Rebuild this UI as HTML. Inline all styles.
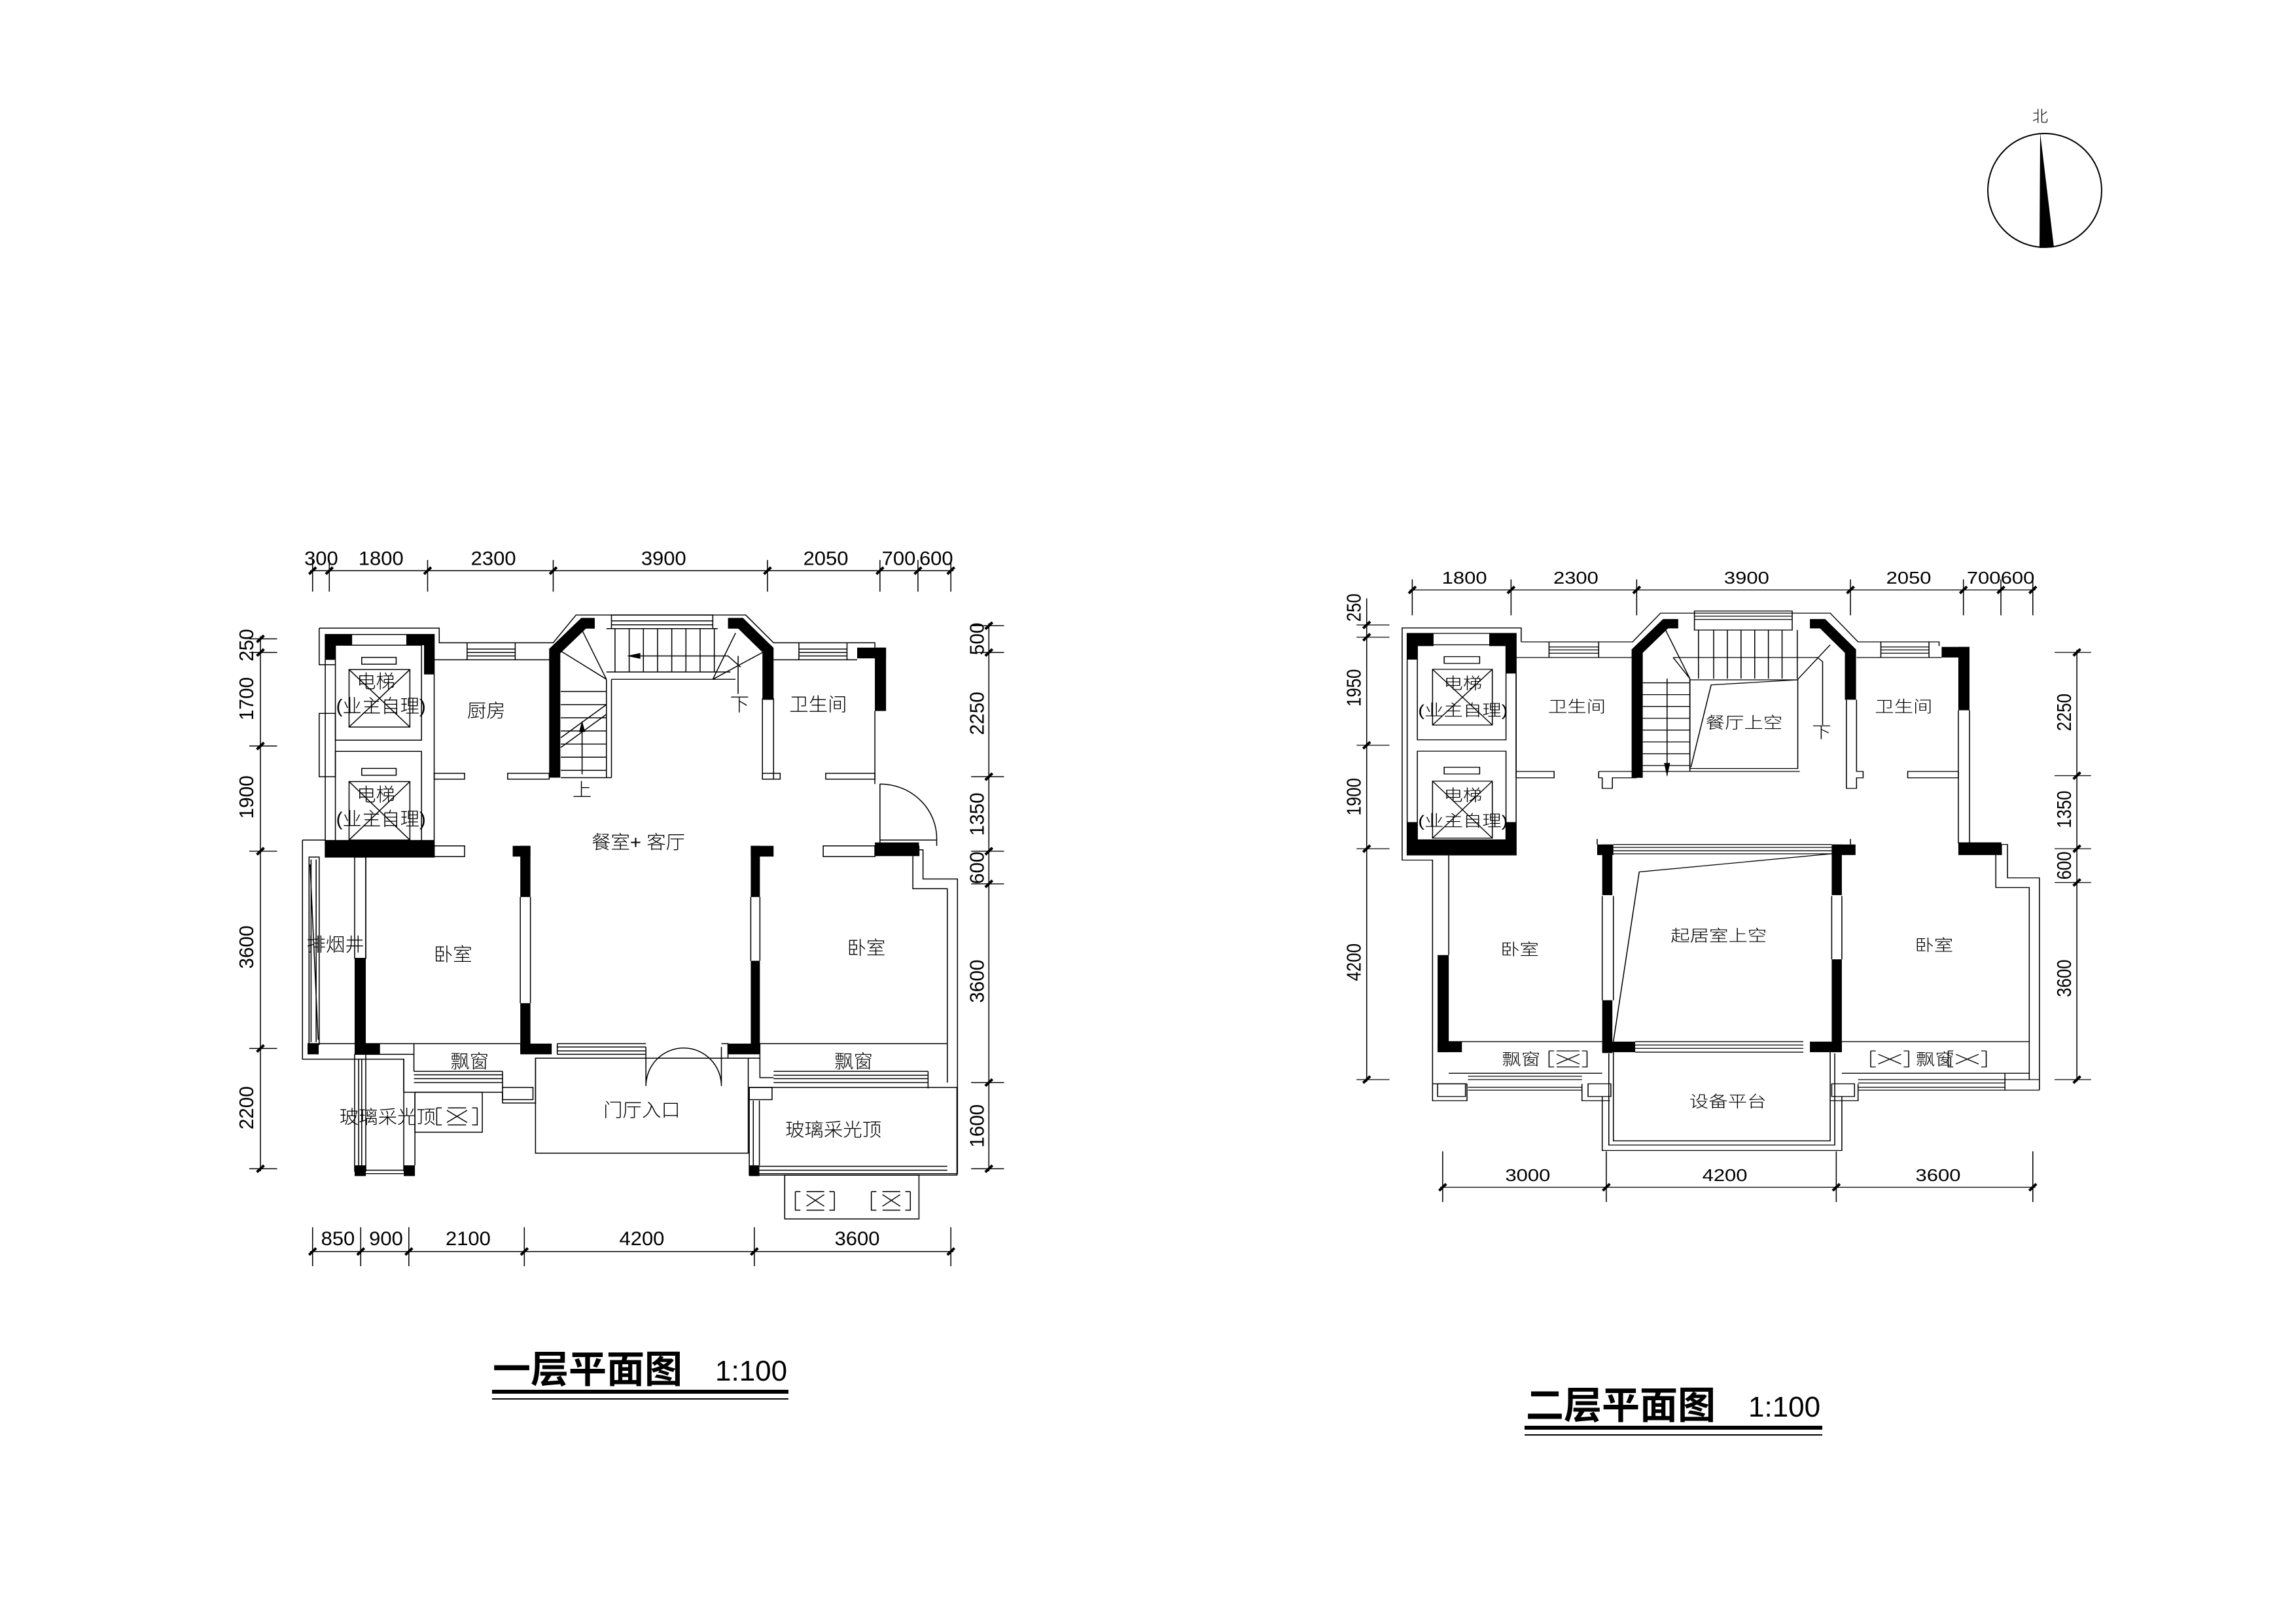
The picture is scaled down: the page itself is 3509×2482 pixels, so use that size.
<!DOCTYPE html>
<html><head><meta charset="utf-8"><style>
html,body{margin:0;padding:0;background:#fff;}
svg{display:block}
.t{stroke:#000;stroke-width:2;fill:none;vector-effect:non-scaling-stroke}
.k{fill:#000}
.x{font-family:"Liberation Sans","Noto Sans CJK SC",sans-serif;fill:#000;text-anchor:middle}
.c{font-family:"Liberation Sans","Noto Sans CJK SC",sans-serif;fill:#000;text-anchor:middle;font-weight:300}
</style></head><body>
<svg width="3509" height="2482" viewBox="0 0 3509 2482" xmlns="http://www.w3.org/2000/svg">
<rect width="3509" height="2482" fill="#fff"/>

<circle cx="3125" cy="291" r="87" class="t"/>
<polygon points="3118,203 3117,379 3139,378" class="k"/>
<text x="3118" y="186" class="c" font-size="24">北</text>

<text x="753" y="2113" font-family="'Noto Sans CJK SC','WenQuanYi Zen Hei',sans-serif" font-size="58" font-weight="bold">一层平面图</text>
<text x="1093" y="2110" font-family="'Liberation Sans',sans-serif" font-size="44">1:100</text>
<rect x="752" y="2124" width="453" height="6" class="k"/>
<rect x="752" y="2137" width="453" height="2" class="k"/>
<text x="2332" y="2168" font-family="'Noto Sans CJK SC','WenQuanYi Zen Hei',sans-serif" font-size="58" font-weight="bold">二层平面图</text>
<text x="2672" y="2165" font-family="'Liberation Sans',sans-serif" font-size="44">1:100</text>
<rect x="2330" y="2179" width="455" height="6" class="k"/>
<rect x="2330" y="2192" width="455" height="2" class="k"/>

<!-- PLAN 1 -->
<svg x="350" y="800" width="1200" height="1150" viewBox="0 0 1550 1545" preserveAspectRatio="none" overflow="visible">
<g class="t">
<line x1="160" y1="97" x2="1430" y2="97"/>
<path d="M165,75V140M198,75V140M392,75V140M640,75V140M1063,75V140M1285,75V140M1360,75V140M1425,75V140"/>
<line x1="62" y1="232" x2="62" y2="1330"/>
<path d="M40,237H95M40,265H95M40,457H95M40,673H95M40,1078H95M40,1325H95"/>
<line x1="1500" y1="205" x2="1500" y2="1330"/>
<path d="M1465,210H1530M1465,265H1530M1465,520H1530M1465,673H1530M1465,740H1530M1465,1148H1530M1465,1325H1530"/>
<line x1="160" y1="1495" x2="1430" y2="1495"/>
<path d="M165,1445V1525M260,1445V1525M355,1445V1525M583,1445V1525M1037,1445V1525M1425,1445V1525"/>
</g>
<g stroke="#000" stroke-width="4" fill="none">
<path d="M158,104L172,90M191,104L205,90M385,104L399,90M633,104L647,90M1056,104L1070,90M1278,104L1292,90M1353,104L1367,90M1418,104L1432,90" vector-effect="non-scaling-stroke"/>
<path d="M55,244L69,230M55,272L69,258M55,464L69,450M55,680L69,666M55,1085L69,1071M55,1332L69,1318" vector-effect="non-scaling-stroke"/>
<path d="M1493,217L1507,203M1493,272L1507,258M1493,527L1507,513M1493,680L1507,666M1493,747L1507,733M1493,1155L1507,1141M1493,1332L1507,1318" vector-effect="non-scaling-stroke"/>
<path d="M158,1502L172,1488M253,1502L267,1488M348,1502L362,1488M576,1502L590,1488M1030,1502L1044,1488M1418,1502L1432,1488" vector-effect="non-scaling-stroke"/>
</g>
<g class="x" font-size="40">
<text x="182" y="85">300</text><text x="300" y="85">1800</text><text x="522" y="85">2300</text><text x="858" y="85">3900</text><text x="1178" y="85">2050</text><text x="1322" y="85">700</text><text x="1396" y="85">600</text>
<text x="215" y="1482">850</text><text x="310" y="1482">900</text><text x="472" y="1482">2100</text><text x="815" y="1482">4200</text><text x="1240" y="1482">3600</text>
<text transform="translate(48,250) rotate(-90)">250</text><text transform="translate(48,360) rotate(-90)">1700</text><text transform="translate(48,562) rotate(-90)">1900</text><text transform="translate(48,870) rotate(-90)">3600</text><text transform="translate(48,1200) rotate(-90)">2200</text>
<text transform="translate(1490,237) rotate(-90)">500</text><text transform="translate(1490,390) rotate(-90)">2250</text><text transform="translate(1490,597) rotate(-90)">1350</text><text transform="translate(1490,707) rotate(-90)">600</text><text transform="translate(1490,940) rotate(-90)">3600</text><text transform="translate(1490,1237) rotate(-90)">1600</text>
</g>
<g class="t">
<path d="M178,215H415V245H640L685,188H1020L1075,245H1275V255"/>
<path d="M178,215V290H210"/>
<rect x="178" y="390" width="32" height="130"/>
<rect x="190" y="228" width="215" height="457"/>
<rect x="210" y="250" width="170" height="195"/><rect x="210" y="468" width="170" height="190"/>
<rect x="237" y="300" width="120" height="118"/><path d="M237,300L357,418M357,300L237,418"/>
<rect x="237" y="530" width="120" height="120"/><path d="M237,530L357,650M357,530L237,650"/>
<rect x="262" y="275" width="68" height="14"/><rect x="262" y="503" width="68" height="14"/>
<path d="M405,280H632M470,245V280M565,245V280M470,258H565M470,265H565M470,272H565"/>
<rect x="405" y="513" width="60" height="12"/><rect x="550" y="513" width="82" height="12"/>
<rect x="755" y="188" width="200" height="28"/><path d="M755,200H955M755,208H955M745,216H965"/>
<path d="M1075,280H1240M1125,245V280M1220,245V280M1125,258H1220M1125,265H1220M1125,272H1220"/>
<rect x="1053" y="360" width="22" height="165"/><rect x="1053" y="513" width="35" height="12"/><rect x="1178" y="513" width="97" height="12"/>
<path d="M1275,385V535"/>
<path d="M1285,535A112,112 0 0 1 1397,650M1285,535V655M1285,650H1397V662"/>
<rect x="405" y="662" width="60" height="22"/><rect x="1173" y="662" width="102" height="22"/>
<path d="M1362,662V683M1350,683V750H1418V1148M1362,670H1370V730H1438V1335H1418"/>
<path d="M145,650H190M145,650V1100H345V1168H540V1190H605V1098"/>
<rect x="158" y="685" width="20" height="385"/><path d="M162,690V1065M172,690V1065M160,700L176,1060"/>
<rect x="248" y="685" width="22" height="208"/>
<path d="M155,1068H575M270,1090H365V1100M365,1068V1125"/>
<path d="M365,1125H540M365,1132H540M365,1140H540M365,1148H540M540,1125V1160"/>
<rect x="540" y="1158" width="60" height="25"/>
<path d="M575,767V985M595,767V985M1030,767V898M1048,767V898"/>
<rect x="248" y="1090" width="22" height="240"/><path d="M256,1100V1318M262,1100V1318"/>
<path d="M345,1100V1330M367,1168V1318M270,1328H345M270,1335H345"/>
<rect x="367" y="1168" width="133" height="82"/>
<path d="M410,1200H420M410,1200V1235H420M490,1200H480M490,1200V1235H480M430,1205L470,1230M470,1205L430,1230M432,1200H468M432,1235H468"/>
<rect x="605" y="1098" width="420" height="195"/>
<path d="M648,1068H823M648,1075H823M648,1083H823M648,1090H823M648,1068V1090"/>
<path d="M823,1075V1155M972,1075V1155M823,1155A75,78 0 0 1 898,1077M972,1155A75,78 0 0 0 898,1077M972,1068H985V1098"/>
<path d="M985,1068V1090M1025,1098H1048"/>
<path d="M1048,1068H1418M1048,1068V1138H1075M1075,1125H1380M1075,1133H1380M1075,1140H1380M1075,1148H1380M1380,1125V1160"/>
<rect x="1027" y="1158" width="45" height="25"/>
<rect x="1027" y="1158" width="410" height="180"/><path d="M1035,1185V1318M1047,1185V1318M1047,1320H1418M1047,1328H1418M1047,1335H1418"/>
<rect x="1097" y="1338" width="265" height="90"/>
<path d="M1118,1372H1128M1118,1372V1410H1128M1195,1372H1185M1195,1372V1410H1185M1140,1378L1175,1402M1175,1378L1140,1402M1140,1372H1175M1140,1410H1175"/>
<path d="M1268,1372H1278M1268,1372V1410H1278M1345,1372H1335M1345,1372V1410H1335M1290,1378L1325,1402M1325,1378L1290,1402M1290,1372H1325M1290,1410H1325"/>
<!-- stairs -->
<path d="M655,345H745M655,372H745M655,399H745M655,426H745M655,453H745M655,480H745M655,507H745M745,320V522M755,320V522M655,522H755"/>
<path d="M755,320H1000M762,216V305M790,216V305M818,216V305M846,216V305M874,216V305M902,216V305M930,216V305M958,216V305M745,305H990"/>
<path d="M745,320L695,215M745,320L655,262M955,320L1000,225M955,320L1053,265"/>
<path d="M790,272H985L1010,295M1005,272V350"/>
<path d="M697,415V515M655,460L745,392M655,440L745,372"/>
<path d="M160,1068V1090M270,685V893"/>
</g>
<polygon points="785,272 812,266 812,278" class="k"/>
<polygon points="697,405 691,428 703,428" class="k"/>
<path d="M643,522L643,262L700,205L722,205M985,205L1010,205L1064,260L1064,362" stroke="#000" stroke-width="22" fill="none" stroke-linejoin="miter"/>
<g class="k">
<rect x="190" y="228" width="53" height="22"/><rect x="190" y="228" width="20" height="52"/>
<rect x="350" y="228" width="55" height="22"/><rect x="385" y="228" width="20" height="82"/>
<rect x="190" y="650" width="215" height="35"/>
<rect x="1240" y="255" width="57" height="22"/><rect x="1275" y="255" width="22" height="130"/>
<rect x="1275" y="655" width="87" height="28"/>
<rect x="560" y="662" width="35" height="22"/><rect x="575" y="662" width="20" height="105"/>
<rect x="575" y="985" width="20" height="100"/><rect x="575" y="1068" width="62" height="22"/>
<rect x="248" y="893" width="22" height="197"/><rect x="248" y="1068" width="50" height="22"/>
<rect x="155" y="1068" width="22" height="22"/>
<rect x="1030" y="662" width="45" height="22"/><rect x="1030" y="662" width="18" height="105"/>
<rect x="1030" y="898" width="18" height="190"/><rect x="985" y="1068" width="63" height="22"/>
<rect x="1027" y="1318" width="20" height="22"/>
<rect x="248" y="1318" width="22" height="22"/><rect x="345" y="1318" width="22" height="22"/>
</g>
<g class="c" font-size="38">
<text x="290" y="338">电梯</text><text x="300" y="388">(业主自理)</text>
<text x="290" y="570">电梯</text><text x="300" y="620">(业主自理)</text>
<text x="508" y="398">厨房</text><text x="1163" y="385">卫生间</text>
<text x="808" y="668">餐室+ 客厅</text>
<text x="442" y="898">卧室</text><text x="1258" y="885">卧室</text>
<text x="210" y="878">排烟井</text>
<text x="475" y="1118">飘窗</text><text x="1233" y="1118">飘窗</text>
<text x="815" y="1218">门厅入口</text>
<text x="313" y="1232">玻璃采光顶</text><text x="1193" y="1258">玻璃采光顶</text>
<text x="697" y="560">上</text><text x="1008" y="385">下</text>
</g>
</svg>

<!-- PLAN 2 -->
<svg x="2050" y="850" width="1200" height="1000" viewBox="0 0 1550 1550" preserveAspectRatio="none" overflow="visible">
<g class="t">
<line x1="135" y1="80" x2="1370" y2="80"/>
<path d="M140,55V140M335,55V140M583,55V140M1005,55V140M1228,55V140M1302,55V140M1365,55V140"/>
<line x1="50" y1="100" x2="50" y2="1245"/>
<path d="M30,163H95M30,192H95M30,448H95M30,693H95M30,1240H95"/>
<line x1="1452" y1="222" x2="1452" y2="1245"/>
<path d="M1408,228H1480M1408,520H1480M1408,693H1480M1408,773H1480M1408,1240H1480"/>
<line x1="195" y1="1495" x2="1370" y2="1495"/>
<path d="M200,1410V1530M523,1410V1530M977,1410V1530M1365,1410V1530"/>
</g>
<g stroke="#000" stroke-width="4" fill="none">
<path d="M133,88L147,72M328,88L342,72M576,88L590,72M998,88L1012,72M1221,88L1235,72M1295,88L1309,72M1358,88L1372,72" vector-effect="non-scaling-stroke"/>
<path d="M43,171L57,155M43,200L57,184M43,456L57,440M43,701L57,685M43,1248L57,1232" vector-effect="non-scaling-stroke"/>
<path d="M1445,236L1459,220M1445,528L1459,512M1445,701L1459,685M1445,781L1459,765M1445,1248L1459,1232" vector-effect="non-scaling-stroke"/>
<path d="M193,1503L207,1487M516,1503L530,1487M970,1503L984,1487M1358,1503L1372,1487" vector-effect="non-scaling-stroke"/>
</g>
<g class="x" font-size="40">
<text x="243" y="65">1800</text><text x="463" y="65">2300</text><text x="800" y="65">3900</text><text x="1120" y="65">2050</text><text x="1268" y="65">700</text><text x="1335" y="65">600</text>
<text x="368" y="1480">3000</text><text x="757" y="1480">4200</text><text x="1178" y="1480">3600</text>
<text transform="translate(38,122) rotate(-90)">250</text><text transform="translate(38,312) rotate(-90)">1950</text><text transform="translate(38,570) rotate(-90)">1900</text><text transform="translate(38,962) rotate(-90)">4200</text>
<text transform="translate(1440,370) rotate(-90)">2250</text><text transform="translate(1440,600) rotate(-90)">1350</text><text transform="translate(1440,733) rotate(-90)">600</text><text transform="translate(1440,1000) rotate(-90)">3600</text>
</g>
<g class="t">
<path d="M355,203V170H120V720H180V1290H248V1250M180,1250H248"/>
<path d="M355,203H575L630,135H965L1020,203H1180V213"/>
<rect x="130" y="183" width="215" height="525"/>
<rect x="150" y="210" width="175" height="225"/><rect x="150" y="462" width="175" height="210"/>
<rect x="180" y="268" width="118" height="132"/><path d="M180,268L298,400M298,268L180,400"/>
<rect x="180" y="533" width="118" height="135"/><path d="M180,533L298,668M298,533L180,668"/>
<rect x="203" y="238" width="70" height="16"/><rect x="203" y="500" width="70" height="16"/>
<path d="M345,278V510M345,240H575M410,203V240M508,203V240M410,215H508M410,222H508M410,230H508"/>
<rect x="345" y="510" width="75" height="15"/>
<rect x="697" y="130" width="193" height="45"/><path d="M697,142H890M697,150H890"/>
<path d="M1017,240H1185M1065,203V240M1160,203V240M1065,215H1160M1065,222H1160M1065,230H1160"/>
<path d="M997,340V550H1017V525H1030V510H1017V340"/>
<rect x="1118" y="510" width="100" height="15"/>
<path d="M508,510H583M508,510V525H515V550H535V525H583"/>
<path d="M1218,365V680M1240,365V680"/>
<path d="M1303,683V708M1292,708V785H1358V1240M1303,683H1315V762H1378V1265"/>
<path d="M988,1150H1358M988,1225H1358M1020,1240H1378M1020,1248H1310M1020,1258H1310M1020,1265H1378M1310,1225V1265"/>
<path d="M212,708V945M212,1150H515M212,1225H515M250,1232H475M250,1240H475M250,1258H475M250,1265H475"/>
<rect x="190" y="1250" width="55" height="30"/><rect x="487" y="1250" width="45" height="30"/><rect x="968" y="1250" width="45" height="30"/>
<path d="M475,1250V1290H530M1020,1250V1290H965"/>
<path d="M537,683H968M537,690H968M537,698H968M537,705H968M505,670V683M1005,670V683"/>
<path d="M515,805V1052M537,805V1052M968,805V955M988,805V955"/>
<path d="M580,1150H912M580,1158H912M580,1166H912M580,1175H912"/>
<path d="M537,1175V1385H965V1175M528,1178V1395H974V1178M515,1280V1408H988V1280"/>
<path d="M537,1150L588,748L968,705"/>
<rect x="688" y="293" width="213" height="210"/><path d="M690,500L730,305L900,293"/>
<path d="M595,300H688M595,328H688M595,356H688M595,384H688M595,412H688M595,440H688M595,468H688M595,496H688M688,290V510M595,510H905"/>
<path d="M705,175V290M735,175V290M762,175V290M789,175V290M816,175V290M843,175V290M870,175V290M900,175V290M655,240H940L950,250V400"/>
<path d="M688,290L640,175M655,240L688,290M900,293L965,210"/>
<path d="M643,290V520"/>
<path d="M410,1172H420M410,1172V1210H420M485,1172H475M485,1172V1210H475M425,1180L470,1203M470,1180L425,1203M425,1172H470M425,1210H470"/>
<path d="M1045,1172H1055M1045,1172V1210H1055M1120,1172H1110M1120,1172V1210H1110M1060,1180L1105,1203M1105,1180L1060,1203"/>
<path d="M1198,1172H1208M1198,1172V1210H1208M1273,1172H1263M1273,1172V1210H1263M1213,1180L1258,1203M1258,1180L1213,1203"/>
</g>
<polygon points="643,522 637,490 649,490" class="k"/>
<path d="M584,525L584,225L640,160L665,160M925,160L950,160L1005,225L1005,340" stroke="#000" stroke-width="22" fill="none"/>
<g class="k">
<rect x="130" y="183" width="52" height="30"/><rect x="130" y="183" width="20" height="62"/>
<rect x="292" y="183" width="53" height="30"/><rect x="325" y="183" width="20" height="95"/>
<rect x="130" y="672" width="215" height="35"/><rect x="130" y="630" width="20" height="75"/><rect x="325" y="630" width="20" height="75"/>
<rect x="1185" y="215" width="55" height="25"/><rect x="1218" y="215" width="22" height="150"/>
<rect x="1218" y="678" width="85" height="30"/>
<rect x="505" y="683" width="32" height="25"/><rect x="515" y="683" width="20" height="120"/>
<rect x="515" y="1052" width="20" height="125"/><rect x="515" y="1150" width="65" height="25"/>
<rect x="968" y="683" width="47" height="25"/><rect x="968" y="683" width="20" height="120"/>
<rect x="968" y="955" width="20" height="220"/><rect x="925" y="1150" width="63" height="25"/>
<rect x="190" y="945" width="22" height="230"/><rect x="190" y="1150" width="48" height="25"/>
</g>
<g class="c" font-size="38">
<text x="240" y="315">电梯</text><text x="240" y="378">(业主自理)</text>
<text x="240" y="580">电梯</text><text x="240" y="640">(业主自理)</text>
<text x="465" y="370">卫生间</text><text x="1110" y="370">卫生间</text>
<text x="795" y="408">餐厅上空</text><text x="948" y="430">下</text>
<text x="745" y="912">起居室上空</text>
<text x="352" y="945">卧室</text><text x="1170" y="935">卧室</text>
<text x="355" y="1205">飘窗</text><text x="1172" y="1205">飘窗</text>
<text x="763" y="1305">设备平台</text>
</g>
</svg>
</svg>
</body></html>
